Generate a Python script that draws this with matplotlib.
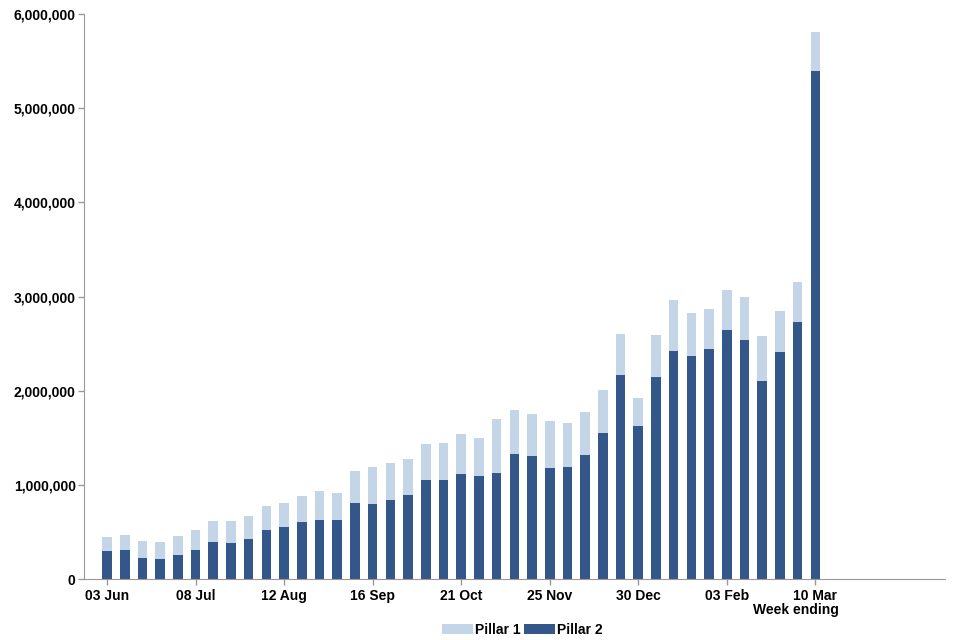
import matplotlib.pyplot as plt
import numpy as np

plt.rcParams['font.family'] = ['Liberation Sans', 'DejaVu Sans']

# weekly totals (week ending 03 Jun .. 10 Mar)
pillar2 = [294000, 305000, 227000, 216000, 251000, 308000, 393000, 382000, 428000, 517000,
           552000, 609000, 627000, 627000, 807000, 796000, 834000, 892000, 1048000, 1051000,
           1111000, 1090000, 1126000, 1331000, 1310000, 1179000, 1189000, 1320000, 1547000, 2168000,
           1625000, 2150000, 2424000, 2366000, 2444000, 2648000, 2539000, 2102000, 2409000, 2726000,
           5399000]
total = [446000, 470000, 403000, 393000, 453000, 520000, 619000, 616000, 669000, 772000,
         807000, 878000, 934000, 913000, 1150000, 1189000, 1232000, 1274000, 1434000, 1444000,
         1537000, 1497000, 1699000, 1795000, 1752000, 1678000, 1657000, 1773000, 2011000, 2603000,
         1927000, 2588000, 2960000, 2821000, 2864000, 3072000, 2994000, 2583000, 2843000, 3151000,
         5811000]
pillar1 = [t - p for t, p in zip(total, pillar2)]

tick_idx = [0, 5, 10, 15, 20, 25, 30, 35, 40]
tick_labels = ['03 Jun', '08 Jul', '12 Aug', '16 Sep', '21 Oct', '25 Nov', '30 Dec', '03 Feb', '10 Mar']

dark = '#34578a'
light = '#c5d5e8'
axis_col = '#999999'

fig = plt.figure(figsize=(9.6, 6.4), dpi=100)
ax = fig.add_axes([0.0875, 0.0953, 0.8965, 0.8828])

x = np.arange(len(total))
ax.bar(x, pillar2, width=0.54, color=dark, label='Pillar 2')
ax.bar(x, pillar1, width=0.54, bottom=pillar2, color=light, label='Pillar 1')

ax.set_xlim(-1.3, 47.3)
ax.set_ylim(0, 6000000)
ax.set_yticks(np.arange(0, 6000001, 1000000))
ax.set_yticklabels([f'{v:,}' for v in range(0, 6000001, 1000000)])
ax.set_xticks(tick_idx)
ax.set_xticklabels(tick_labels)

for s in ['top', 'right']:
    ax.spines[s].set_visible(False)
for s in ['left', 'bottom']:
    ax.spines[s].set_color(axis_col)
ax.tick_params(axis='both', colors=axis_col, length=4, width=1, labelcolor='black',
               labelsize=10)
ax.tick_params(axis='x', pad=3)
ax.tick_params(axis='y', pad=2)
for lbl in ax.get_xticklabels() + ax.get_yticklabels():
    lbl.set_fontweight('bold')

ax.text(38.9, -0.042, 'Week ending', transform=ax.get_xaxis_transform(), ha='center',
        va='top', fontsize=10, fontweight='bold')

h, l = ax.get_legend_handles_labels()
leg = fig.legend(h[::-1], l[::-1], loc='center', bbox_to_anchor=(0.544, 0.016), ncol=2,
                 frameon=False, handlelength=2.2, handleheight=0.8, handletextpad=0.15,
                 columnspacing=0.3, prop={'weight': 'bold', 'size': 10})

fig.savefig('out.png', dpi=100)
plt.close(fig)
